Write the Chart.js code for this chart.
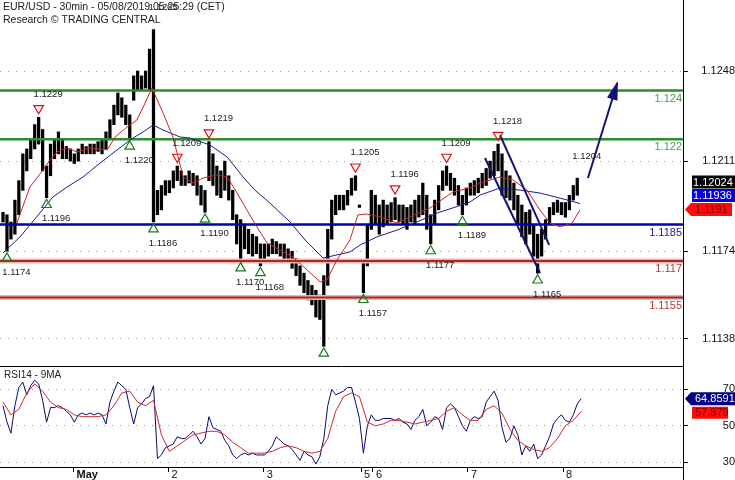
<!DOCTYPE html>
<html>
<head>
<meta charset="utf-8">
<title>EUR/USD 30min</title>
<script src="https://cdn.jsdelivr.net/npm/chart.js"></script>
<style>
  html, body { margin:0; padding:0; background:#fff; }
  #wrap { position:relative; width:735px; height:480px; overflow:hidden; background:#fff; }
  #c1 { position:absolute; left:0; top:0; }
  #c2 { position:absolute; left:0; top:366px; }
</style>
</head>
<body>
<div id="wrap">
  <canvas id="c1" width="735" height="366"></canvas>
  <canvas id="c2" width="735" height="114"></canvas>
</div>
<script>
const FONT = '"Liberation Sans", Arial, Helvetica, sans-serif';
const titleLines = ['EUR/USD - 30min - 05/08/2019 05:25:29 (CET)', 'Research \u00A9 TRADING CENTRAL'];
const rsiTitle = 'RSI14 - 9MA';

// hourly high / low (index = hour)
const highs = [
1.1190,1.1189,1.1186,1.1195,1.1203,1.1214,1.1216,1.1220,1.1226,1.1229,
1.1224,1.1209,1.1218,1.1220,1.1223,1.1220,1.1217,1.1216,1.1214,1.1216,
1.1218,1.1217,1.1218,1.1218,1.1219,1.1220,1.1223,1.1228,1.1234,1.1239,
1.1237,1.1234,1.1230,1.1246,1.1248,1.1246,1.1248,1.1257,1.1265,1.1199,
1.1201,1.1203,1.1203,1.1207,1.1209,1.1207,1.1205,1.1207,1.1206,
1.1205,1.1201,1.1199,1.1219,1.1214,1.1209,1.1207,1.1211,1.1205,1.1199,
1.1189,1.1187,1.1185,1.1183,1.1181,1.1180,1.1177,1.1177,1.1177,1.1179,
1.1178,1.1177,1.1177,1.1175,1.1174,1.1171,1.1168,1.1165,1.1162,1.1160,
1.1158,1.1156,1.1164,1.1183,1.1195,1.1197,1.1197,1.1197,1.1199,1.1204,
1.1205,1.1193,1.1170,1.1185,1.1199,1.1197,1.1193,1.1195,1.1193,1.1194,
1.1196,1.1193,1.1193,1.1192,1.1193,1.1195,1.1197,1.1202,1.1197,1.1189,
1.1195,1.1201,1.1207,1.1209,1.1206,1.1204,1.1201,1.1197,1.1200,1.1202,
1.1203,1.1204,1.1206,1.1208,1.1211,1.1215,1.1218,1.1214,1.1207,1.1205,
1.1202,1.1197,1.1193,1.1190,1.1191,1.1185,1.1181,1.1183,1.1187,1.1192,
1.1194,1.1195,1.1194,1.1194,1.1197,1.1201,1.1204];
const lows = [
1.1186,1.1174,1.1179,1.1181,1.1189,1.1199,1.1207,1.1212,1.1216,1.1218,
1.1207,1.1196,1.1205,1.1212,1.1214,1.1212,1.1212,1.1211,1.1210,1.1211,
1.1214,1.1214,1.1214,1.1214,1.1215,1.1214,1.1216,1.1220,1.1226,1.1230,
1.1229,1.1226,1.1220,1.1236,1.1240,1.1240,1.1241,1.1240,1.1186,1.1189,
1.1191,1.1197,1.1198,1.1200,1.1203,1.1201,1.1201,1.1202,1.1201,
1.1197,1.1193,1.1190,1.1203,1.1201,1.1197,1.1196,1.1199,1.1195,1.1187,
1.1177,1.1170,1.1175,1.1173,1.1172,1.1173,1.1168,1.1171,1.1172,1.1173,
1.1173,1.1172,1.1171,1.1170,1.1167,1.1164,1.1160,1.1157,1.1154,1.1152,
1.1147,1.1146,1.1135,1.1160,1.1179,1.1189,1.1191,1.1191,1.1193,1.1197,
1.1199,1.1192,1.1157,1.1168,1.1183,1.1185,1.1181,1.1184,1.1185,1.1186,
1.1187,1.1186,1.1185,1.1183,1.1186,1.1185,1.1188,1.1189,1.1183,1.1177,
1.1185,1.1191,1.1199,1.1201,1.1199,1.1197,1.1193,1.1189,1.1193,1.1197,
1.1197,1.1198,1.1200,1.1201,1.1204,1.1205,1.1207,1.1197,1.1196,1.1195,
1.1191,1.1185,1.1180,1.1177,1.1181,1.1172,1.1165,1.1172,1.1179,1.1185,
1.1189,1.1190,1.1189,1.1188,1.1191,1.1195,1.1197];
const closeLast = 1.12024;

// moving averages (hour, value)
const redMaHour = [3.5,6.8,10.1,11.9,13.6,16.2,18.7,22.0,26.3,28.3,31.3,33.8,35.4,37.6,40.4,42.9,45.5,48.0,50.5,54.0,56.6,59.1,61.6,64.1,66.7,69.9,73.2,76.8,80.1,81.8,84.3,87.6,89.6,91.7,95.2,99.5,102.8,107.8,113.6,117.9,120.5,125.5,128.8,132.3,135.6,138.1,140.7,143.7,145.7];
const redMaValue = [1.11856,1.12004,1.12074,1.12115,1.12147,1.12164,1.12147,1.12164,1.12156,1.12209,1.12250,1.12279,1.12332,1.12410,1.12308,1.12209,1.12045,1.12020,1.12041,1.12053,1.12045,1.11979,1.11909,1.11840,1.11774,1.11745,1.11716,1.11663,1.11614,1.11622,1.11704,1.11786,1.11889,1.11893,1.11881,1.11856,1.11881,1.11918,1.11983,1.12000,1.12020,1.12045,1.12033,1.11991,1.11909,1.11856,1.11840,1.11856,1.1191];
const blueMaHour = [0,4.3,9.3,12.6,16.2,20.2,24.5,28.8,32.8,35.4,37.9,40.4,44.7,47.2,52.3,56.6,60.6,63.6,67.4,72.5,76.3,80.8,84.3,87.6,90.2,94.4,99.5,104.5,109.6,113.6,117.9,120.5,125.5,130.6,135.6,140.7,145.7];
const blueMaValue = [1.11733,1.11799,1.11897,1.11963,1.12004,1.12045,1.12102,1.12156,1.12205,1.12230,1.12258,1.12238,1.12209,1.12205,1.12176,1.12127,1.12045,1.11991,1.11938,1.11860,1.11786,1.11712,1.11725,1.11737,1.11766,1.11799,1.11827,1.11860,1.11897,1.11918,1.11942,1.11971,1.12000,1.11991,1.11979,1.11958,1.11936];

// RSI14 hourly and its 9MA (every 2 hours)
const rsiValues = [61,52,46,61,71,74,67,72,75,73,64,52,60,60,61,60,58,56,52,56,57,56,57,56,57,56,51,63,69,74,72,70,60,51,60,62,65,66,72,32,34,38,39,40,44,43,43,45,47,44,40,43,55,49,48,47,42,39,34,32,34,35,34,35,34,34,34,36,39,44,42,40,39,37,34,31,36,34,33,29,33,43,61,70,67,68,69,71,71,63,54,35,50,56,53,53,54,54,54,53,54,52,51,48,53,55,59,50,52,55,54,48,60,62,60,55,50,47,53,55,54,55,63,66,69,64,49,41,43,50,45,34,39,36,40,32,34,39,44,51,54,56,53,52,56,62,64.8591];
const rsiMaValues = [63,56,59,68,73,69,63,60,59,56,55,55,55,56,61,68,69,63,61,64,45,36,39,42,45,46,47,47,45,41,38,35,35,35,36,38,39,38,36,35,36,43,58,66,68,66,52,50,51,53,53,52,51,52,53,54,58,60,56,53,53,59,61,57,48,42,39,37,36,38,43,50,53,57.879];
const rsiMaStepHours = 2;

// levels, ticks, dates
const levelValues = [1.124, 1.122, 1.1185, 1.117, 1.1155];
const levelLabels = ['1.124', '1.122', '1.1185', '1.117', '1.1155'];
const priceTicks = [1.1138, 1.1174, 1.1211, 1.1248];
const rsiTicks = [30, 50, 70];
const dayTickHours = [17.8, 41.8, 65.8, 90.4, 93.4, 117.4, 141.4];
const dayTickLabels = ['May', '2', '3', '5', '6', '7', '8'];

// swing points
const peakHours = [9, 44, 52, 89, 99, 112, 125];
const peakValues = [1.1229, 1.1209, 1.1219, 1.1205, 1.1196, 1.1209, 1.1218];
const troughHours = [1, 11, 32, 38, 51, 60, 65, 81, 91, 108, 116, 135];
const troughValues = [1.1174, 1.1196, 1.1220, 1.1186, 1.1190, 1.1170, 1.1168, 1.1135, 1.1157, 1.1177, 1.1189, 1.1165];
const noteHours = [38, 145];
const noteValues = [1.1265, 1.1204];

// drawn analysis lines
const channelUpperHours = [125.5, 137.9];
const channelUpperValues = [1.12217, 1.11766];
const channelLowerHours = [121.7, 135.6];
const channelLowerValues = [1.12123, 1.11651];
const arrowHours = [147.7, 155.1];
const arrowValues = [1.12041, 1.12431];

// axis ranges
const HOUR_MIN = -0.76, HOUR_MAX = 171.7;
const PRICE_MIN = 1.11269, PRICE_MAX = 1.127715;
const RSI_MIN = 27.4, RSI_MAX = 82.8;
const PEAK_PAD = 0.00037, TROUGH_PAD = 0.00029;

// styles
const levelLineColors = ['#2e8b2e', '#2e8b2e', '#0000b4', '#a82828', '#a82828'];
const levelHaloColors = [null, null, null, '#eeb4b4', '#eeb4b4'];
const levelTextColors = ['#4c9a4c', '#4c9a4c', '#22228c', '#b23c3c', '#b23c3c'];
const NAVY = '#12127a';

const pts = (xs, ys) => xs.map((x, i) => ({x: x, y: ys[i]}));
const noPad = s => { s.paddingTop = 0; s.paddingBottom = 0; s.paddingLeft = 0; s.paddingRight = 0; };
const levelLine = (v, color, width, order) => ({type: 'line', data: [{x: HOUR_MIN, y: v}, {x: HOUR_MAX, y: v}], borderColor: color, borderWidth: width, pointRadius: 0, order: order});

function drawBox(ctx, tipX, x0, x1, cy, h, bg, fg, text, tx) {
  ctx.fillStyle = bg;
  ctx.beginPath();
  if (tipX !== null) { ctx.moveTo(tipX, cy); ctx.lineTo(x0, cy - h / 2); }
  else ctx.moveTo(x0, cy - h / 2);
  ctx.lineTo(x1, cy - h / 2);
  ctx.lineTo(x1, cy + h / 2);
  ctx.lineTo(x0, cy + h / 2);
  ctx.closePath();
  ctx.fill();
  ctx.fillStyle = fg;
  ctx.font = '11px ' + FONT;
  ctx.textAlign = 'left';
  ctx.textBaseline = 'middle';
  ctx.fillText(text, tx, cy + 0.5);
}

const mainPlugin = {
  id: 'mainDeco',
  afterDatasetsDraw(chart) {
    const ctx = chart.ctx, xs = chart.scales.x, ys = chart.scales.y, area = chart.chartArea;
    const byId = id => chart.getDatasetMeta(chart.data.datasets.findIndex(d => d.id === id)).data;
    ctx.save();
    ctx.font = '11px ' + FONT; ctx.textAlign = 'right'; ctx.textBaseline = 'middle';
    levelValues.forEach((v, i) => {
      ctx.fillStyle = levelTextColors[i];
      ctx.fillText(levelLabels[i], area.right - 1, ys.getPixelForValue(v) + 8);
    });
    const am = byId('arrow');
    if (am.length === 2) {
      const p0 = am[0], p1 = am[1];
      const a = Math.atan2(p1.y - p0.y, p1.x - p0.x);
      const L = 17, W = 5.5;
      ctx.fillStyle = NAVY;
      ctx.beginPath();
      ctx.moveTo(p1.x + 2 * Math.cos(a), p1.y + 2 * Math.sin(a));
      ctx.lineTo(p1.x - L * Math.cos(a) + W * Math.sin(a), p1.y - L * Math.sin(a) - W * Math.cos(a));
      ctx.lineTo(p1.x - L * Math.cos(a) - W * Math.sin(a), p1.y - L * Math.sin(a) + W * Math.cos(a));
      ctx.closePath(); ctx.fill();
    }
    ctx.font = '9.5px ' + FONT; ctx.fillStyle = '#222'; ctx.textAlign = 'center'; ctx.textBaseline = 'middle';
    byId('peaks').forEach((p, i) => {
      ctx.fillText(peakValues[i].toFixed(4), p.x + 9.5, p.y - 14);
    });
    byId('troughs').forEach((p, i) => {
      if (p.y + 14 < area.bottom - 5) ctx.fillText(troughValues[i].toFixed(4), p.x + 9.5, p.y + 14);
    });
    noteHours.forEach((h, i) => {
      ctx.fillText(noteValues[i].toFixed(4), xs.getPixelForValue(h) + 9.5, ys.getPixelForValue(noteValues[i]) - 22);
    });
    ctx.restore();
  },
  afterDraw(chart) {
    const ctx = chart.ctx, ys = chart.scales.y, area = chart.chartArea;
    ctx.save();
    ctx.font = '10.5px ' + FONT; ctx.fillStyle = '#1a1a1a'; ctx.textAlign = 'left'; ctx.textBaseline = 'middle';
    ctx.fillText(titleLines[0], 3, 7);
    ctx.fillText(titleLines[1], 3, 20);
    const R = area.right;
    const c1 = ys.getPixelForValue(closeLast);
    drawBox(ctx, null, R + 9, R + 52, c1, 13, '#000000', '#ffffff', String(closeLast), R + 10);
    const c2 = Math.min(ys.getPixelForValue(blueMaValue[blueMaValue.length - 1]), c1 + 13.5);
    drawBox(ctx, null, R + 9, R + 52, c2, 13, '#0000e6', '#ffffff', String(blueMaValue[blueMaValue.length - 1]), R + 10);
    const c3 = Math.min(ys.getPixelForValue(redMaValue[redMaValue.length - 1]), c2 + 14);
    drawBox(ctx, R + 2, R + 8, R + 49, c3, 13, '#ff0a0a', '#7a0000', String(redMaValue[redMaValue.length - 1]), R + 12);
    ctx.restore();
  }
};

const mainDatasets = [
  {id: 'bars', type: 'bar', data: highs.map((h, i) => ({x: i, y: [lows[i], h]})), backgroundColor: '#000', borderWidth: 0, barThickness: 2.6, order: 20},
  ...levelValues.map((v, i) => levelHaloColors[i] ? levelLine(v, levelHaloColors[i], 5, 16) : null).filter(Boolean),
  ...levelValues.map((v, i) => levelLine(v, levelLineColors[i], levelHaloColors[i] ? 2 : 2.5, 15)),
  {id: 'blueMa', type: 'line', data: pts(blueMaHour, blueMaValue), borderColor: '#1a1a90', borderWidth: 1, pointRadius: 0, order: 9},
  {id: 'redMa', type: 'line', data: pts(redMaHour, redMaValue), borderColor: '#cc2222', borderWidth: 1, pointRadius: 0, order: 8},
  {id: 'chanU', type: 'line', data: pts(channelUpperHours, channelUpperValues), borderColor: NAVY, borderWidth: 2, pointRadius: 0, order: 5},
  {id: 'chanL', type: 'line', data: pts(channelLowerHours, channelLowerValues), borderColor: NAVY, borderWidth: 2, pointRadius: 0, order: 5},
  {id: 'arrow', type: 'line', data: pts(arrowHours, arrowValues), borderColor: NAVY, borderWidth: 2, pointRadius: 0, order: 5},
  {id: 'peaks', type: 'line', showLine: false, data: peakHours.map((h, i) => ({x: h, y: peakValues[i] + PEAK_PAD})), pointStyle: 'triangle', pointRotation: 180, pointRadius: 5.5, pointBorderColor: '#e01010', pointBackgroundColor: 'rgba(0,0,0,0)', pointBorderWidth: 1.2, order: 1},
  {id: 'troughs', type: 'line', showLine: false, data: troughHours.map((h, i) => ({x: h, y: troughValues[i] - TROUGH_PAD})), pointStyle: 'triangle', pointRadius: 5.5, pointBorderColor: '#1a7a1a', pointBackgroundColor: 'rgba(0,0,0,0)', pointBorderWidth: 1.2, order: 1}
];

new Chart(document.getElementById('c1'), {
  type: 'bar',
  data: {datasets: mainDatasets},
  options: {
    responsive: false, animation: false, events: [], devicePixelRatio: 1,
    layout: {padding: 0, autoPadding: false},
    plugins: {legend: {display: false}, tooltip: {enabled: false}},
    scales: {
      x: {type: 'linear', min: HOUR_MIN, max: HOUR_MAX, display: false, offset: false, grid: {offset: false}},
      y: {
        type: 'linear', position: 'right', min: PRICE_MIN, max: PRICE_MAX,
        afterBuildTicks: s => { s.ticks = priceTicks.map(v => ({value: v})); },
        afterFit: s => { s.width = 52; noPad(s); },
        ticks: {callback: v => Number(v).toFixed(4), font: {family: FONT, size: 11}, color: '#111', crossAlign: 'far', padding: 11},
        grid: {color: '#9a9a9a', lineWidth: 1, drawTicks: true, tickLength: 5, tickColor: '#000', tickBorderDash: []},
        border: {display: true, color: '#000', width: 1, dash: [1, 7]}
      }
    }
  },
  plugins: [mainPlugin]
});

const rsiPlugin = {
  id: 'rsiDeco',
  afterDraw(chart) {
    const ctx = chart.ctx, ys = chart.scales.y, area = chart.chartArea;
    ctx.save();
    ctx.strokeStyle = '#000'; ctx.lineWidth = 1;
    ctx.beginPath(); ctx.moveTo(0, area.top + 0.5); ctx.lineTo(area.right, area.top + 0.5); ctx.stroke();
    ctx.beginPath(); ctx.moveTo(area.right + 0.5, area.bottom); ctx.lineTo(area.right + 0.5, chart.height); ctx.stroke();
    ctx.font = '10px ' + FONT; ctx.fillStyle = '#222'; ctx.textAlign = 'left'; ctx.textBaseline = 'middle';
    ctx.fillText(rsiTitle, 4, 9);
    const R = area.right;
    const lastRsi = rsiValues[rsiValues.length - 1];
    const lastMa = rsiMaValues[rsiMaValues.length - 1];
    const c1 = ys.getPixelForValue(lastRsi);
    drawBox(ctx, R + 2, R + 8, R + 52, c1, 13, '#000080', '#ffffff', String(lastRsi), R + 12);
    const c2 = Math.max(ys.getPixelForValue(lastMa), c1 + 14);
    drawBox(ctx, null, R + 9, R + 45, c2, 12, '#ff0a0a', '#7a0000', String(lastMa), R + 12);
    ctx.restore();
  }
};

new Chart(document.getElementById('c2'), {
  type: 'line',
  data: {
    datasets: [
      {data: rsiValues.map((v, i) => ({x: i, y: v})), borderColor: '#0a0a6e', borderWidth: 1, pointRadius: 0, order: 2},
      {data: rsiMaValues.map((v, j) => ({x: j * rsiMaStepHours, y: v})), borderColor: '#cc2a2a', borderWidth: 1, pointRadius: 0, order: 1}
    ]
  },
  options: {
    responsive: false, animation: false, events: [], devicePixelRatio: 1,
    layout: {padding: 0, autoPadding: false},
    plugins: {legend: {display: false}, tooltip: {enabled: false}},
    scales: {
      x: {
        type: 'linear', min: HOUR_MIN, max: HOUR_MAX, position: 'bottom',
        afterBuildTicks: s => { s.ticks = dayTickHours.map(v => ({value: v})); },
        afterFit: s => { s.height = 13; noPad(s); },
        ticks: {
          autoSkip: false, maxRotation: 0, minRotation: 0, align: 'start', padding: -3,
          callback: (v, i) => ' ' + dayTickLabels[i],
          font: c => ({family: FONT, size: 11, lineHeight: 1, weight: c.index === 0 ? 'bold' : 'normal'}),
          color: '#111'
        },
        grid: {drawOnChartArea: false, drawTicks: true, tickLength: 5, tickColor: '#000'},
        border: {display: true, color: '#000', width: 1}
      },
      y: {
        type: 'linear', position: 'right', min: RSI_MIN, max: RSI_MAX,
        afterBuildTicks: s => { s.ticks = rsiTicks.map(v => ({value: v})); },
        afterFit: s => { s.width = 52; noPad(s); },
        ticks: {callback: v => String(v), font: {family: FONT, size: 11}, color: '#111', crossAlign: 'far', padding: 33},
        grid: {color: '#9a9a9a', lineWidth: 1, drawTicks: true, tickLength: 5, tickColor: '#000', tickBorderDash: []},
        border: {display: true, color: '#000', width: 1, dash: [1, 7]}
      }
    }
  },
  plugins: [rsiPlugin]
});
</script>
</body>
</html>
